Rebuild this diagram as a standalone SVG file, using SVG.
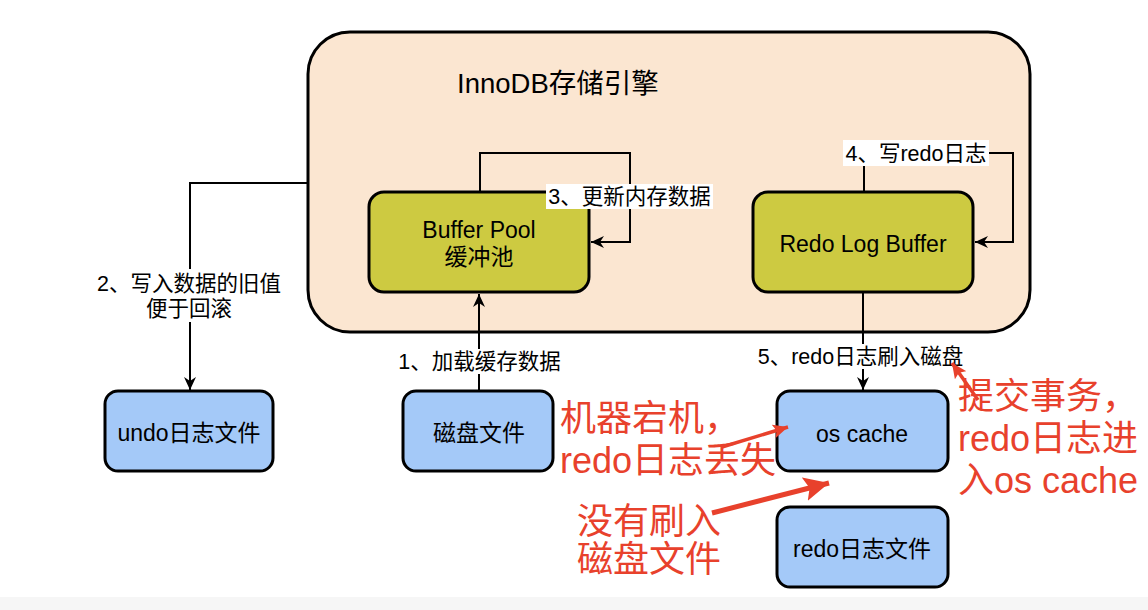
<svg xmlns="http://www.w3.org/2000/svg" width="1148" height="610" viewBox="0 0 1148 610">
<defs>
<style>
.t{font-family:"Liberation Sans","Noto Sans CJK SC",Arial,sans-serif;fill:#000}
.node{font-size:23px}
.lbl{font-size:21.5px}
.red{font-family:"Liberation Sans","Noto Sans CJK SC",Arial,sans-serif;font-size:36px;fill:#e8412c}
.box{stroke:#000;stroke-width:3}
.green{fill:#cdca41}
.blue{fill:#a4c9f8}
.conn{fill:none;stroke:#000;stroke-width:2}
.rline{fill:none;stroke:#e8412c}
.bg{fill:#fff}
</style>
<marker id="arr" markerUnits="userSpaceOnUse" markerWidth="14" markerHeight="14" viewBox="0 0 14 14" refX="13" refY="7" orient="auto">
<path d="M0,1 L13,7 L0,13 L4,7 Z" fill="#000"/>
</marker>
<marker id="rarr" markerUnits="userSpaceOnUse" markerWidth="16" markerHeight="14" viewBox="0 0 16 14" refX="15" refY="7" orient="auto">
<path d="M0,0 L15,7 L0,14 L3,7 Z" fill="#e8412c"/>
</marker>
<marker id="rarrB" markerUnits="userSpaceOnUse" markerWidth="26" markerHeight="24" viewBox="0 0 26 24" refX="25" refY="12" orient="auto">
<path d="M0,0 L25,12 L0,24 L5,12 Z" fill="#e8412c"/>
</marker>
</defs>
<rect x="0" y="0" width="1148" height="610" fill="#fff"/>
<rect x="0" y="597" width="1148" height="13" fill="#f6f6f6"/>

<g id="innodb">
<rect class="box" x="308" y="32" width="722" height="300" rx="42" fill="#fbe6d1"/>
<text class="t" x="457" y="93" font-size="27.5">InnoDB存储引擎</text>
</g>

<g id="buffer-pool">
<rect class="box green" x="369" y="192" width="220" height="100" rx="15"/>
<text class="t node" x="479" y="238" text-anchor="middle">Buffer Pool</text>
<text class="t node" x="479" y="265" text-anchor="middle">缓冲池</text>
</g>

<g id="redo-log-buffer">
<rect class="box green" x="753" y="192" width="220" height="100" rx="15"/>
<text class="t node" x="863" y="252" text-anchor="middle">Redo Log Buffer</text>
</g>

<g id="undo-file">
<rect class="box blue" x="105" y="391" width="168" height="80" rx="13"/>
<text class="t node" x="189" y="441" text-anchor="middle">undo日志文件</text>
</g>

<g id="disk-file">
<rect class="box blue" x="403" y="391" width="150" height="80" rx="13"/>
<text class="t node" x="479" y="441" text-anchor="middle">磁盘文件</text>
</g>

<g id="os-cache">
<rect class="box blue" x="777" y="391" width="171" height="80" rx="13"/>
<text class="t node" x="862" y="442" text-anchor="middle">os cache</text>
</g>

<g id="redo-file">
<rect class="box blue" x="777" y="507" width="171" height="80" rx="13"/>
<text class="t node" x="862" y="557" text-anchor="middle">redo日志文件</text>
</g>

<g id="connectors">
<path class="conn" d="M479,391 L479,294" marker-end="url(#arr)"/>
<rect class="bg" x="396" y="349" width="167" height="25"/>
<text class="t lbl" x="479.5" y="369" text-anchor="middle">1、加载缓存数据</text>

<path class="conn" d="M308,183 L190,183 L190,390" marker-end="url(#arr)"/>
<rect class="bg" x="95" y="269" width="189" height="53"/>
<text class="t lbl" x="189" y="291" text-anchor="middle">2、写入数据的旧值</text>
<text class="t lbl" x="189" y="316" text-anchor="middle">便于回滚</text>

<path class="conn" d="M480,192 L480,153 L630,153 L630,242 L591,242" marker-end="url(#arr)"/>
<rect class="bg" x="546" y="184" width="167" height="25"/>
<text class="t lbl" x="629.5" y="204" text-anchor="middle">3、更新内存数据</text>

<path class="conn" d="M864,192 L864,153 L1013,153 L1013,242 L975,242" marker-end="url(#arr)"/>
<rect class="bg" x="843" y="140" width="146" height="26"/>
<text class="t lbl" x="916" y="161" text-anchor="middle">4、写redo日志</text>

<path class="conn" d="M863,292 L863,390" marker-end="url(#arr)"/>
<rect class="bg" x="754" y="344" width="213" height="25"/>
<text class="t lbl" x="860.5" y="364" text-anchor="middle">5、redo日志刷入磁盘</text>
</g>

<g id="annotations">
<line class="rline" x1="722" y1="447" x2="788" y2="427" stroke-width="3.5" marker-end="url(#rarr)"/>
<line class="rline" x1="712" y1="513" x2="829" y2="483" stroke-width="5" marker-end="url(#rarrB)"/>
<line class="rline" x1="978" y1="400" x2="952" y2="363" stroke-width="3.5" marker-end="url(#rarr)"/>
<text class="red" x="560" y="431">机器宕机，</text>
<text class="red" x="560" y="473">redo日志丢失</text>
<text class="red" x="577" y="534">没有刷入</text>
<text class="red" x="577" y="572">磁盘文件</text>
<text class="red" x="958" y="409">提交事务，</text>
<text class="red" x="958" y="451">redo日志进</text>
<text class="red" x="958" y="493">入os cache</text>
</g>
</svg>
